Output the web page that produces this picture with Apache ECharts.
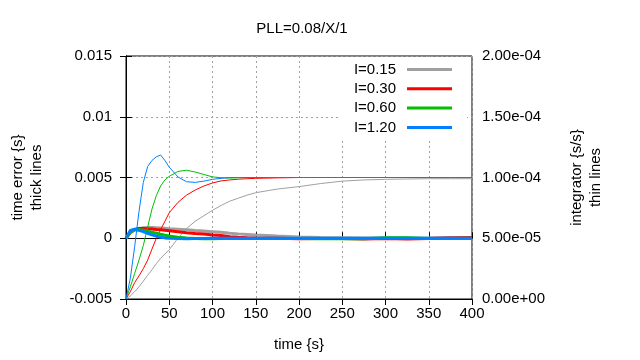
<!DOCTYPE html>
<html>
<head>
<meta charset="utf-8">
<script src="https://cdn.jsdelivr.net/npm/echarts@6/dist/echarts.min.js"></script>
<style>html,body{margin:0;padding:0;background:#fff}#c{width:640px;height:360px}</style>
</head>
<body>
<div id="c"></div>
<script>
// time samples (s)
const times = [0,5,10,15,20,25,30,35,40,45,50,60,70,80,90,100,110,120,130,140,150,175,200,225,250,275,300,325,350,375,400];
const seriesNames = ['I=0.15','I=0.30','I=0.60','I=1.20'];
const colors = ['#a0a0a0','#ff0000','#00c000','#0080ff'];

// time error {s} (thick lines, left axis)
const errI015 = [0,0.00045,0.00068,0.0008,0.00086,0.00088,0.00088,0.00087,0.00085,0.00082,0.00079,0.00075,0.00071,0.00064,0.00059,0.00054,0.00049,0.00042,0.00036,0.00031,0.00026,0.00018,0.00011,0.00007,0.00005,0.00003,0.00002,0.00001,0.00003,0.00006,0.00003];
const errI030 = [0,0.0005,0.00072,0.0008,0.0008,0.00079,0.00077,0.00072,0.00069,0.00066,0.00062,0.00054,0.00046,0.0004,0.00035,0.00027,0.00022,0.00012,0.00008,0.00005,0.00003,0,-0.00005,-0.00002,-0.00002,-0.00006,-0.00002,-0.00006,-0.00002,0.00002,0.00006];
const errI060 = [0,0.0005,0.0007,0.00072,0.00066,0.00058,0.0005,0.00042,0.00033,0.00025,0.00018,0.00009,0.00003,-0.00002,-0.00004,-0.00004,-0.00003,-0.00003,-0.00002,-0.00002,-0.00002,-0.00003,-0.00003,-0.00004,-0.00004,-0.00004,0.00004,0.00004,-0.00003,-0.00003,0];
const errI120 = [0,0.00065,0.00075,0.00066,0.00055,0.00041,0.00028,0.00018,0.00008,0.00003,0,-0.00003,-0.00004,-0.00003,-0.00002,-0.00001,-0.00001,-0.00001,-0.00001,0,0,0,0,0,0,0,0,0,0,0,0];

// integrator {s/s} (thin lines, right axis)
const intI015 = [0,2.5e-6,6e-6,1.0e-5,1.47e-5,1.95e-5,2.4e-5,2.9e-5,3.35e-5,3.7e-5,4.05e-5,5.0e-5,5.8e-5,6.4e-5,6.85e-5,7.3e-5,7.7e-5,8.05e-5,8.3e-5,8.55e-5,8.75e-5,9.05e-5,9.25e-5,9.5e-5,9.7e-5,9.8e-5,9.85e-5,9.88e-5,9.9e-5,9.9e-5,9.9e-5];
const intI030 = [0,6e-6,1.35e-5,1.9e-5,2.5e-5,3.2e-5,4.1e-5,5.0e-5,5.7e-5,6.4e-5,7.1e-5,7.95e-5,8.55e-5,8.97e-5,9.3e-5,9.55e-5,9.72e-5,9.8e-5,9.86e-5,9.9e-5,9.93e-5,9.97e-5,1e-4,1e-4,1e-4,1e-4,1e-4,1e-4,1e-4,1e-4,1e-4];
const intI060 = [0,1.0e-5,2.1e-5,3.2e-5,4.4e-5,5.9e-5,7.4e-5,8.5e-5,9.3e-5,9.8e-5,1.01e-4,1.05e-4,1.06e-4,1.045e-4,1.025e-4,1.005e-4,9.98e-5,9.95e-5,9.98e-5,1e-4,1e-4,1e-4,1e-4,1e-4,1e-4,1e-4,1e-4,1e-4,1e-4,1e-4,1e-4];
const intI120 = [0,1.7e-5,4.3e-5,7.2e-5,9.6e-5,1.09e-4,1.14e-4,1.17e-4,1.185e-4,1.14e-4,1.085e-4,1.005e-4,9.65e-5,9.6e-5,9.7e-5,9.85e-5,9.93e-5,1e-4,1e-4,1e-4,1e-4,1e-4,1e-4,1e-4,1e-4,1e-4,1e-4,1e-4,1e-4,1e-4,1e-4];

const xTicks = {min:0, max:400, interval:50};
const leftTicks = {min:-0.005, max:0.015, interval:0.005};
const rightTicks = {min:0, max:2e-4, interval:5e-5};

const errs = [errI015, errI030, errI060, errI120];
const ints = [intI015, intI030, intI060, intI120];

const FONT = 'Liberation Sans';
const txt = {fontFamily: FONT, fontSize: 15, color: '#000'};

const series = [];
for (let k = 0; k < 4; k++) {
  series.push({
    name: seriesNames[k], type: 'line', yAxisIndex: 0, symbol: 'none', animation: false,
    lineStyle: {color: colors[k], width: 3}, itemStyle: {color: colors[k]},
    data: times.map((t, i) => [t, errs[k][i]])
  });
  series.push({
    name: seriesNames[k], type: 'line', yAxisIndex: 1, symbol: 'none', animation: false,
    lineStyle: {color: colors[k], width: 1}, itemStyle: {color: colors[k]},
    data: times.map((t, i) => [t, ints[k][i]])
  });
}

function expFmt(v) {
  const s = Number(v).toExponential(2);
  return s.replace(/e([+-])(\d+)$/, function (m, sg, d) { return 'e' + sg + (d.length < 2 ? '0' + d : d); });
}

const split = {show: true, lineStyle: {color: '#a0a0a0', type: [2, 3], width: 1}};

const chart = echarts.init(document.getElementById('c'), null, {renderer: 'canvas'});
chart.setOption({
  animation: false,
  backgroundColor: '#fff',
  title: {text: 'PLL=0.08/X/1', left: 297, top: 16, textAlign: 'center',
    textStyle: {fontFamily: FONT, fontSize: 15, fontWeight: 'normal', color: '#000'}},
  grid: {left: 123, right: 168, top: 56, bottom: 61, show: true, borderColor: '#000', borderWidth: 1, backgroundColor: 'transparent'},
  legend: {
    data: seriesNames, orient: 'vertical', align: 'right', right: 173, top: 57,
    padding: [5, 15, 4, 14], itemGap: 4.3, itemWidth: 45, itemHeight: 3, icon: 'rect',
    backgroundColor: '#fff', textStyle: Object.assign({}, txt, {padding: [0, 6, 0, 0]})
  },
  xAxis: [{
    type: 'value', min: xTicks.min, max: xTicks.max, interval: xTicks.interval,
    name: 'time {s}', nameLocation: 'middle', nameGap: 38, nameTextStyle: txt,
    axisLine: {show: true, lineStyle: {color: '#000'}},
    axisTick: {show: true, inside: true, length: 6, lineStyle: {color: '#000'}},
    axisLabel: Object.assign({margin: 7}, txt),
    splitLine: split
  }, {
    type: 'value', position: 'top', min: xTicks.min, max: xTicks.max, interval: xTicks.interval,
    axisLine: {show: true, lineStyle: {color: '#000'}},
    axisTick: {show: true, inside: true, length: 6, lineStyle: {color: '#000'}},
    axisLabel: {show: false}, splitLine: {show: false}
  }],
  yAxis: [{
    type: 'value', position: 'left', min: leftTicks.min, max: leftTicks.max, interval: leftTicks.interval,
    name: 'time error {s}\nthick lines', nameLocation: 'middle', nameGap: 80, nameRotate: 90,
    nameTextStyle: Object.assign({}, txt, {lineHeight: 19, align: 'center'}),
    axisLine: {show: true, lineStyle: {color: '#000'}},
    axisTick: {show: true, inside: true, length: 6, lineStyle: {color: '#000'}},
    axisLabel: Object.assign({margin: 14}, txt),
    splitLine: split
  }, {
    type: 'value', position: 'right', min: rightTicks.min, max: rightTicks.max, interval: rightTicks.interval,
    name: 'integrator {s/s}\nthin lines', nameLocation: 'middle', nameGap: 95, nameRotate: 90,
    nameTextStyle: Object.assign({}, txt, {lineHeight: 19, align: 'center'}),
    axisLine: {show: true, lineStyle: {color: '#000'}},
    axisTick: {show: true, inside: true, length: 6, lineStyle: {color: '#000'}},
    axisLabel: Object.assign({margin: 10, formatter: expFmt}, txt),
    splitLine: {show: false}
  }],
  series: series
});
</script>
</body>
</html>
